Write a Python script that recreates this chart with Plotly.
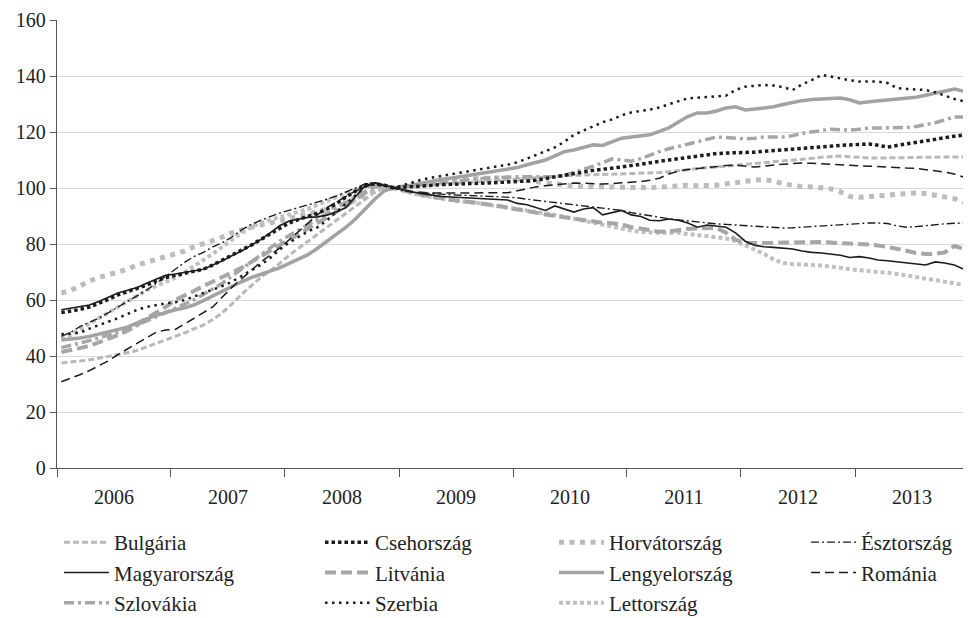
import plotly.graph_objects as go
import pandas as pd

months = pd.date_range("2006-01-01", periods=96, freq="MS") + pd.Timedelta(days=14)
year_ticks = pd.date_range("2006-01-01", periods=9, freq="YS")
y_ticks = [0, 20, 40, 60, 80, 100, 120, 140, 160]

bulgaria = [
    37.5, 37.8, 38.2, 38.6, 39.2, 39.8, 40.5, 41.2, 42.0, 43.2, 44.5, 45.7,
    47.0, 48.3, 49.7, 51.0, 53.0, 55.5, 58.5, 62.0, 65.0, 68.0, 70.5, 73.0,
    76.0, 78.5, 81.0, 83.5, 86.0, 88.5, 91.0, 93.5, 96.0, 98.5, 100.0, 100.0,
    100.3, 100.6, 100.8, 101.0, 101.3, 101.5, 101.8, 102.0, 102.3, 102.5, 102.8, 103.0,
    103.2, 103.5, 103.7, 104.0, 104.2, 104.4, 104.5, 104.6, 104.6, 104.7, 104.8, 105.0,
    105.0, 105.2, 105.4, 105.5, 105.8, 106.2, 106.6, 107.0, 107.3, 107.5, 107.8, 108.0,
    108.3, 108.6, 109.0, 109.3, 109.6, 110.0, 110.3, 110.6, 111.0, 111.3, 111.4, 111.2,
    110.9, 110.7, 110.7, 110.7, 110.8, 110.8, 110.9, 111.0, 111.0, 111.0, 111.0, 111.1]

csehorszag = [
    55.5, 56.0, 56.6, 57.5, 58.8, 60.2, 61.8, 63.0, 64.0, 65.3, 66.8, 68.0,
    68.8, 69.5, 70.2, 71.0, 72.5, 74.2, 76.0, 77.8, 79.6, 81.5, 83.5, 85.5,
    87.5, 88.8, 89.8, 91.0, 92.5, 94.5, 96.8, 99.0, 101.0, 101.5, 101.0, 100.0,
    100.3, 100.6, 100.8, 101.0, 101.2, 101.3, 101.5, 101.6, 101.7, 101.8, 101.9, 102.0,
    102.2, 102.5, 102.8, 103.4, 104.0, 104.7, 105.4, 105.9, 106.3, 106.7, 107.0, 107.5,
    108.0, 108.6, 109.0, 109.5, 110.0, 110.5, 111.0, 111.5, 112.0, 112.3, 112.5, 112.5,
    112.6, 112.8, 113.1, 113.4, 113.7, 114.0, 114.3, 114.5, 114.7, 115.0, 115.2, 115.4,
    115.6, 115.7, 115.3, 114.6, 115.2, 115.8, 116.3, 116.8, 117.4, 118.0, 118.5, 118.9]

horvatorszag = [
    62.5, 63.5, 65.0, 66.8, 68.0, 69.0, 70.0, 71.0, 72.5, 73.5, 74.5, 75.5,
    76.5, 77.5, 79.0, 80.0, 81.2, 82.5, 84.0, 85.0, 86.0, 86.8, 87.5, 88.2,
    89.0, 89.8, 90.7, 91.5, 92.5, 93.5, 94.5, 96.0, 97.5, 99.0, 100.3, 100.0,
    100.5, 101.0, 101.5, 102.0, 102.4, 102.8, 103.1, 103.3, 103.5, 103.6, 103.6, 103.5,
    103.3, 102.8, 102.3, 101.8, 101.3, 101.0, 100.7, 100.5, 100.4, 100.4, 100.5, 100.5,
    100.4, 100.2, 100.1, 100.3, 100.6, 100.9, 101.0, 100.8, 100.7, 101.0, 101.5, 102.0,
    102.5, 102.8, 103.0, 102.5, 101.5, 100.8, 100.5, 100.4, 100.2, 99.7, 98.6, 97.0,
    96.7, 96.8, 97.0, 97.4, 97.8, 98.1, 98.2, 98.0, 97.5, 96.8, 96.2, 95.0]

esztorszag = [
    47.0, 48.5, 50.5, 52.0, 53.5, 55.5, 57.5, 59.5, 61.5, 63.5, 66.0, 68.5,
    71.0, 73.5, 75.5, 77.0, 79.0, 80.5, 82.5, 85.0, 87.0, 88.5, 89.8, 91.0,
    92.0, 93.0, 94.0, 95.0, 96.0, 97.2, 98.5, 100.0, 101.5, 102.0, 101.0, 100.0,
    99.0, 98.5, 98.2, 98.0, 97.8, 97.6, 97.4, 97.3, 97.1, 97.0, 96.9, 96.8,
    96.5, 96.0, 95.6, 95.2, 94.8, 94.4, 94.0, 93.6, 93.2, 92.8, 92.4, 92.0,
    91.2, 90.6, 90.0, 89.5, 89.0, 88.6, 88.2, 87.8, 87.5, 87.2, 87.0, 86.8,
    86.6, 86.4, 86.1, 85.9, 85.7, 85.8, 86.0, 86.3, 86.6, 86.8, 87.0, 87.2,
    87.4, 87.5, 87.5, 87.3, 86.5, 86.0, 86.2, 86.6, 87.0, 87.2, 87.4, 87.5]

magyarorszag = [
    56.5, 57.0, 57.5, 58.2, 59.5, 61.0, 62.5, 63.5, 64.5, 66.0, 67.5, 68.8,
    69.3, 69.8, 70.3, 71.0, 72.5, 74.0, 75.8, 77.5, 79.5, 81.5, 84.0, 86.5,
    88.2, 89.0, 89.5, 89.7, 90.3, 91.5, 93.0, 97.0, 101.0, 101.8, 101.0, 100.0,
    99.2, 98.6, 98.0, 97.5, 97.0, 96.8, 96.6, 96.5, 96.4, 96.2, 96.0, 95.7,
    94.5, 94.0, 93.0, 92.0, 93.6, 92.5, 91.4, 92.5, 93.0, 90.4, 91.2, 92.0,
    90.4, 89.8, 88.5, 88.3, 88.9, 88.5, 87.5, 86.0, 86.8, 86.5, 86.0, 84.0,
    81.0, 79.5, 79.0, 78.8, 78.6, 78.2, 77.5, 77.0, 76.8, 76.5, 76.0, 75.2,
    75.5, 75.0, 74.3, 74.0, 73.6, 73.2, 72.8, 72.5, 73.6, 73.2, 72.5, 71.0]

litvania = [
    41.4, 42.0, 42.8, 43.6, 44.8, 46.2, 47.5, 49.0, 51.0, 53.5, 55.5, 57.5,
    60.0, 61.5, 63.2, 65.0, 66.5, 68.0, 69.8, 71.5, 73.5, 75.5, 77.5, 79.5,
    81.5, 83.5, 85.5, 87.5, 89.5, 91.5, 93.5, 96.0, 98.5, 100.5, 100.8, 100.0,
    99.0, 98.2, 97.6, 97.0, 96.4, 95.7, 95.3, 95.0, 94.6, 94.2, 93.6, 93.0,
    92.5, 92.0, 91.2, 90.5, 90.0, 89.4, 88.8, 88.4, 88.0, 87.6, 87.4, 87.0,
    86.0, 85.5, 85.0, 84.4, 84.5, 85.0, 85.4, 85.6, 85.7, 85.7, 84.0, 81.5,
    80.4, 80.3, 80.3, 80.4, 80.5, 80.6, 80.7, 80.8, 80.7, 80.5, 80.4, 80.2,
    80.0, 79.8, 79.5, 79.0, 78.3, 77.6, 76.8, 76.4, 76.5, 77.0, 79.3, 78.2]

lengyelorszag = [
    45.7, 46.0, 46.4, 47.0, 47.8, 48.5, 49.2, 50.3, 51.8, 53.3, 54.5, 55.5,
    56.5, 57.2, 58.2, 59.8, 61.5, 63.3, 65.0, 66.5, 68.0, 69.0, 70.3, 71.5,
    73.0, 74.5, 76.2, 78.5, 81.0, 83.5, 86.0, 89.0, 92.5, 96.0, 99.0, 100.0,
    100.5, 101.2, 101.8, 102.4, 103.0, 103.5, 104.0, 104.6, 105.2, 105.8, 106.3, 106.8,
    107.3, 108.3, 109.2, 110.0, 111.5, 113.0, 113.6, 114.5, 115.4, 115.2, 116.5, 117.8,
    118.2, 118.6, 119.0, 120.2, 121.5, 123.6, 125.5, 126.8, 126.8, 127.5, 128.6, 129.0,
    127.9, 128.2, 128.6, 129.0, 129.8, 130.6, 131.2, 131.6, 131.8, 132.0, 132.1, 131.5,
    130.4, 130.8, 131.1, 131.4, 131.6, 131.8, 132.4, 133.1, 133.8, 134.4, 135.3, 134.6]

romania = [
    30.8, 32.0, 33.3, 34.8, 36.5, 38.3, 40.5, 42.5, 44.5, 46.5, 48.5, 49.3,
    49.5, 51.5, 53.5, 55.5, 57.5, 61.0, 64.5, 67.5, 70.5, 73.5, 76.0, 78.5,
    81.5, 84.5, 87.5, 90.5, 93.0, 95.0, 97.0, 99.0, 100.5, 101.5, 100.8, 100.0,
    99.2, 98.7, 98.4, 98.2, 98.2, 98.2, 98.2, 98.3, 98.3, 98.4, 98.4, 98.3,
    99.0, 99.8, 100.4, 100.8, 101.2, 101.6, 101.8, 101.7, 101.5, 101.4, 101.6, 101.8,
    102.0, 102.3, 102.8, 103.5, 105.0, 106.0, 106.6, 107.0, 107.3, 107.8, 108.0, 108.2,
    107.8, 107.5, 107.8, 108.2, 108.5, 108.7, 108.9, 108.8, 108.6, 108.3, 108.2, 108.0,
    107.9, 107.8, 107.6, 107.5, 107.3, 107.1, 107.0, 106.6, 106.1, 105.7, 105.0, 103.9]

szlovakia = [
    43.0, 43.8, 44.5, 45.5, 46.5, 47.5, 48.5, 49.5, 51.0, 52.5, 54.0, 55.5,
    57.0, 58.5, 60.0, 62.0, 64.0, 66.0, 68.5, 71.0, 73.5, 76.0, 78.5, 81.0,
    83.0, 85.0, 87.0, 89.0, 91.0, 93.0, 95.0, 97.0, 99.0, 100.8, 101.0, 100.0,
    100.4, 100.8, 101.2, 101.6, 102.0, 102.4, 102.7, 103.0, 103.3, 103.6, 103.8, 104.0,
    104.0, 104.0, 104.0, 104.0, 104.0, 104.5, 105.5, 106.5, 107.8, 109.0, 110.4, 110.0,
    109.6, 110.5, 111.8, 113.0, 114.0, 114.8, 115.6, 116.4, 117.3, 118.2, 118.0, 117.9,
    117.5, 117.8, 118.2, 118.2, 118.2, 118.7, 119.5, 120.0, 120.5, 121.0, 120.8, 120.7,
    121.0, 121.4, 121.4, 121.4, 121.4, 121.6, 122.0, 122.6, 123.3, 124.3, 125.4, 125.4]

szerbia = [
    47.8, 48.0, 48.3, 49.8, 51.0, 52.5, 53.5, 55.0, 56.5, 57.5, 58.2, 58.8,
    59.2, 60.0, 61.2, 62.5, 63.5, 65.0, 66.5, 68.5, 70.5, 72.5, 75.0, 78.0,
    80.5, 82.5, 84.5, 86.0, 88.5, 91.5, 94.5, 97.5, 100.5, 101.5, 101.0, 100.0,
    101.0, 102.2, 103.0, 103.7, 104.3, 104.9, 105.5, 106.0, 106.6, 107.2, 107.8, 108.3,
    109.2, 110.5, 111.8, 113.0, 114.5, 116.5, 119.0, 120.5, 122.0, 123.5, 124.5, 126.0,
    127.0, 127.5, 128.0, 128.8, 130.0, 131.0, 132.0, 132.3, 132.5, 132.7, 133.0, 135.0,
    136.2, 136.5, 136.8, 136.6, 136.0, 135.0, 137.0, 138.5, 140.4, 139.8, 139.0, 138.5,
    138.0, 138.0, 138.0, 137.5, 135.7, 135.4, 135.2, 135.0, 134.2, 133.0, 131.8, 131.0]

lettorszag = [
    46.0, 47.5, 49.5, 51.5, 53.5, 55.5, 57.5, 59.5, 61.5, 63.5, 65.0, 66.5,
    68.0, 70.0, 72.0, 74.0, 76.5, 79.0, 81.5, 84.0, 86.0, 87.5, 88.6, 89.5,
    90.5, 91.5, 92.5, 94.0, 95.5, 96.8, 98.0, 99.2, 100.5, 101.0, 100.6, 100.0,
    99.0, 98.0, 97.3, 96.7, 96.1, 95.7, 95.3, 95.0, 94.6, 94.0, 93.5, 93.0,
    92.5, 92.0, 91.5, 91.0, 90.4, 89.7, 89.0, 88.3, 87.5, 86.7, 86.0, 85.4,
    84.8, 84.3, 84.0, 84.0, 84.0, 84.0, 83.6, 83.2, 82.8, 82.5, 82.0, 81.0,
    79.5, 78.0, 76.5, 74.5, 73.2, 72.8, 72.5, 72.5, 72.3, 72.0, 71.5, 71.0,
    70.6, 70.3, 70.0, 69.8, 69.4, 68.8, 68.2, 67.6, 67.0, 66.4, 66.0, 65.4]

LIGHT = "#b8b8b8"
MID = "#a2a2a2"
DARK = "#1c1c1c"

# name, data, color, width, dash, legend, rank
series = [
    ("Bulgária", bulgaria, LIGHT, 3.0, "6px,3px", "legend", 1),
    ("Horvátország", horvatorszag, "#bcbcbc", 5.0, "5px,5.5px", "legend3", 1),
    ("Lettország", lettorszag, "#c0c0c0", 4.0, "4px,3px", "legend3", 3),
    ("Litvánia", litvania, "#a6a6a6", 4.0, "11px,5px", "legend2", 2),
    ("Szlovákia", szlovakia, "#a6a6a6", 3.5, "10px,4px,3px,4px", "legend", 3),
    ("Lengyelország", lengyelorszag, MID, 3.5, "solid", "legend3", 2),
    ("Csehország", csehorszag, DARK, 3.5, "3.5px,3px", "legend2", 1),
    ("Észtország", esztorszag, DARK, 1.4, "8px,3px,2px,3px", "legend4", 1),
    ("Magyarország", magyarorszag, DARK, 1.6, "solid", "legend", 2),
    ("Románia", romania, DARK, 1.5, "9px,5px", "legend4", 2),
    ("Szerbia", szerbia, DARK, 2.5, "2.5px,4.5px", "legend2", 3),
]

fig = go.Figure()
for name, data, color, width, dash, leg, rank in series:
    fig.add_trace(go.Scatter(
        x=months, y=data, mode="lines", name=name,
        line=dict(color=color, width=width, dash=dash),
        legend=leg, legendrank=rank, legendgroup=name,
    ))

W, H = 963, 610  # page body adds an 8px offset in the viewer
FONT = "Liberation Serif"
leg_font = dict(family=FONT, size=21, color="#222222")
leg_common = dict(orientation="v", yanchor="top", y=1 - 514 / H,
                  xref="container", yref="container", xanchor="left",
                  font=leg_font, bgcolor="rgba(0,0,0,0)", itemwidth=45,
                  tracegroupgap=0, borderwidth=0)

fig.update_layout(
    width=W, height=H,
    margin=dict(l=49, r=2, t=12, b=150, autoexpand=False),
    paper_bgcolor="white", plot_bgcolor="white",
    font=dict(family=FONT, size=20, color="#222222"),
    showlegend=True,
    legend=dict(x=51 / W, **leg_common),
    legend2=dict(x=312 / W, **leg_common),
    legend3=dict(x=546 / W, **leg_common),
    legend4=dict(x=798 / W, **leg_common),
    xaxis=dict(
        type="date", automargin=False,
        range=[year_ticks[0], year_ticks[-1]],
        tickmode="linear", tick0=year_ticks[0], dtick="M12",
        ticklabelmode="period", tickformat="%Y",
        ticks="outside", ticklen=8, tickcolor="#555555", tickwidth=1.2,
        showline=True, linecolor="#555555", linewidth=1.3,
        showgrid=False, zeroline=False,
        tickfont=dict(family=FONT, size=20, color="#222222"),
        ticklabelstandoff=3,
    ),
    yaxis=dict(
        range=[0, 160], tickvals=y_ticks, automargin=False,
        ticks="outside", ticklen=6, tickcolor="#555555", tickwidth=1.2,
        showline=True, linecolor="#555555", linewidth=1.3,
        showgrid=True, gridcolor="#d9d9d9", gridwidth=1,
        zeroline=False,
        tickfont=dict(family=FONT, size=20, color="#222222"),
        ticklabelstandoff=0,
    ),
)

fig.write_html("out.html")
